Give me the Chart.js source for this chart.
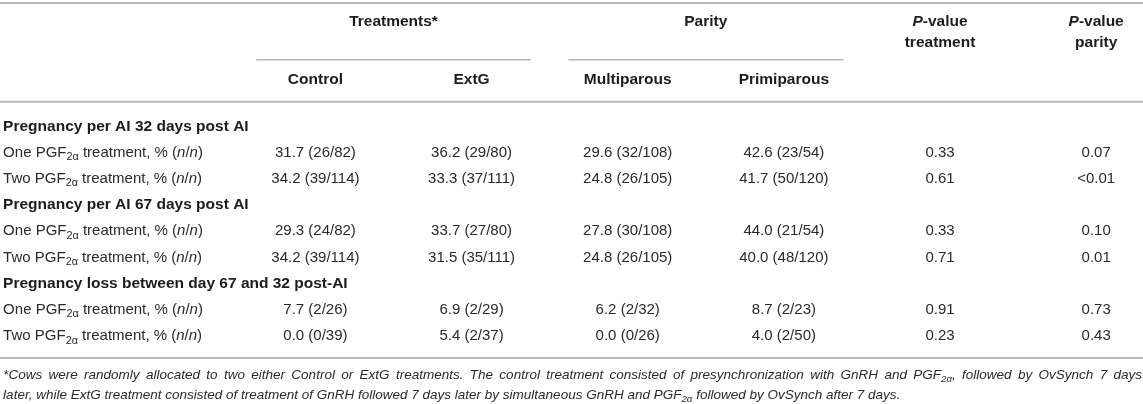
<!DOCTYPE html>
<html><head><meta charset="utf-8">
<script src="https://cdn.jsdelivr.net/npm/chart.js@4/dist/chart.umd.min.js"></script>
<style>html,body{margin:0;padding:0;background:#fff;}canvas{display:block}</style>
</head><body>
<canvas id="c" width="1143" height="404"></canvas>
<script>
// ---------- DATA ----------
const groupHeaders = ['Treatments*', 'Parity'];
const columnHeaders = ['Control', 'ExtG', 'Multiparous', 'Primiparous'];
const pValueHeaders = [['<i>P</i>-value', 'treatment'], ['<i>P</i>-value', 'parity']];
const sectionTitles = [
  'Pregnancy per AI 32 days post AI',
  'Pregnancy per AI 67 days post AI',
  'Pregnancy loss between day 67 and 32 post-AI'
];
const rowLabels = [
  'One PGF<sub>2α</sub> treatment, % (<i>n</i>/<i>n</i>)',
  'Two PGF<sub>2α</sub> treatment, % (<i>n</i>/<i>n</i>)'
];
const controlPct = [31.7, 34.2, 29.3, 34.2, 7.7, 0.0];
const controlCounts = ['26/82', '39/114', '24/82', '39/114', '2/26', '0/39'];
const extgPct = [36.2, 33.3, 33.7, 31.5, 6.9, 5.4];
const extgCounts = ['29/80', '37/111', '27/80', '35/111', '2/29', '2/37'];
const multiparousPct = [29.6, 24.8, 27.8, 24.8, 6.2, 0.0];
const multiparousCounts = ['32/108', '26/105', '30/108', '26/105', '2/32', '0/26'];
const primiparousPct = [42.6, 41.7, 44.0, 40.0, 8.7, 4.0];
const primiparousCounts = ['23/54', '50/120', '21/54', '48/120', '2/23', '2/50'];
const pTreatment = ['0.33', '0.61', '0.33', '0.71', '0.91', '0.23'];
const pParity = ['0.07', '<0.01', '0.10', '0.01', '0.73', '0.43'];
const footnoteLines = [
  '*Cows were randomly allocated to two either Control or ExtG treatments. The control treatment consisted of presynchronization with GnRH and PGF<sub>2α</sub>, followed by OvSynch 7 days',
  'later, while ExtG treatment consisted of treatment of GnRH followed 7 days later by simultaneous GnRH and PGF<sub>2α</sub> followed by OvSynch after 7 days.'
];

// ---------- LAYOUT (scale units) ----------
const X_MIN = -1.02, X_MAX = 6.3;       // column index axis; label column at -1
const Y_MIN = -4.76, Y_MAX = 10.63;     // row index axis (reversed); first body row = 0
const LAYOUT = {
  labelX: -1,
  groupY: -3.92, group2Y: -3.12, subHeadY: -1.71,
  ruleTop: -4.65, ruleSub: -2.48, ruleHead: -0.88, ruleBottom: 8.88,
  subHalf: 0.88,
  foot: [9.52, 10.29],
  bodyShift: 0.05
};
const FONT = '"Liberation Sans", Arial, Helvetica, sans-serif';
const BODY = {size: 15, weight: 'normal', italic: false, color: '#2a2a2a'};
const BOLD = {size: 15.5, weight: 'bold', italic: false, color: '#1c1c1c'};
const FOOT = {size: 13.5, weight: 'normal', italic: true, color: '#2a2a2a'};
const RULE = '#b9b9b9';

// ---------- BUILD DATASETS ----------
function bodyRowY(k) { return Math.floor(k / 2) * 3 + 1 + (k % 2) + LAYOUT.bodyShift; }
const fmt = (p, c) => p.map((v, i) => v.toFixed(1) + ' (' + c[i] + ')');
const bodyColumns = [
  fmt(controlPct, controlCounts),
  fmt(extgPct, extgCounts),
  fmt(multiparousPct, multiparousCounts),
  fmt(primiparousPct, primiparousCounts),
  pTreatment,
  pParity
];

const datasets = [];
function textSet(points, texts, style, align, justify) {
  datasets.push({type: 'scatter', data: points, texts, textStyle: style, align,
    justify: justify || [], pointRadius: 0, pointHoverRadius: 0, showLine: false});
}
function ruleSet(x0, x1, y, w) {
  datasets.push({type: 'line', data: [{x: x0, y}, {x: x1, y}], borderColor: RULE,
    borderWidth: w, pointRadius: 0, fill: false, clip: false, tension: 0});
}

// rules
ruleSet(X_MIN, X_MAX, LAYOUT.ruleTop, 2);
ruleSet(1.5 - LAYOUT.subHalf, 1.5 + LAYOUT.subHalf, LAYOUT.ruleSub, 1.5);
ruleSet(3.5 - LAYOUT.subHalf, 3.5 + LAYOUT.subHalf, LAYOUT.ruleSub, 1.5);
ruleSet(X_MIN, X_MAX, LAYOUT.ruleHead, 2);
ruleSet(X_MIN, X_MAX, LAYOUT.ruleBottom, 2);

// headers
textSet(groupHeaders.map((t, i) => ({x: 1.5 + 2 * i, y: LAYOUT.groupY})), groupHeaders, BOLD, 'center');
textSet(pValueHeaders.map((t, i) => ({x: 5 + i, y: LAYOUT.groupY})), pValueHeaders.map(p => p[0]), BOLD, 'center');
textSet(pValueHeaders.map((t, i) => ({x: 5 + i, y: LAYOUT.group2Y})), pValueHeaders.map(p => p[1]), BOLD, 'center');
textSet(columnHeaders.map((t, i) => ({x: 1 + i, y: LAYOUT.subHeadY})), columnHeaders, BOLD, 'center');

// section titles
textSet(sectionTitles.map((t, i) => ({x: LAYOUT.labelX, y: i * 3 + LAYOUT.bodyShift})), sectionTitles, BOLD, 'left');
// row labels
const labelTexts = [], labelPts = [];
for (let k = 0; k < 6; k++) { labelTexts.push(rowLabels[k % 2]); labelPts.push({x: LAYOUT.labelX, y: bodyRowY(k)}); }
textSet(labelPts, labelTexts, BODY, 'left');
// body values
bodyColumns.forEach((col, ci) => {
  textSet(col.map((v, k) => ({x: ci + 1, y: bodyRowY(k)})), col, BODY, 'center');
});
// footnote (first line justified to the full width)
textSet(footnoteLines.map((t, i) => ({x: LAYOUT.labelX, y: LAYOUT.foot[i]})), footnoteLines, FOOT, 'left', [true, false]);

// ---------- RICH TEXT PLUGIN ----------
function parseRich(markup, base) {
  const segs = [];
  const re = /<(i|sub)>(.*?)<\/\1>/g;
  let last = 0, m;
  while ((m = re.exec(markup)) !== null) {
    if (m.index > last) segs.push(Object.assign({}, base, {text: markup.slice(last, m.index)}));
    if (m[1] === 'i') segs.push(Object.assign({}, base, {text: m[2], italic: true}));
    else segs.push(Object.assign({}, base, {text: m[2], sub: true}));
    last = re.lastIndex;
  }
  if (last < markup.length) segs.push(Object.assign({}, base, {text: markup.slice(last)}));
  return segs;
}
function fontOf(s) {
  const size = s.sub ? s.size * 0.72 : s.size;
  return (s.italic ? 'italic ' : '') + s.weight + ' ' + size + 'px ' + FONT;
}
function drawRich(ctx, markup, x, y, align, base, justifyRight) {
  const segs = parseRich(markup, base);
  let total = 0, spaces = 0;
  segs.forEach(s => {
    ctx.font = fontOf(s); s.w = ctx.measureText(s.text).width; total += s.w;
    spaces += (s.text.match(/ /g) || []).length;
  });
  const extra = (justifyRight != null && spaces > 0) ? Math.max(0, (justifyRight - x - total) / spaces) : 0;
  let cx = align === 'center' ? x - total / 2 : (align === 'right' ? x - total : x);
  segs.forEach(s => {
    ctx.font = fontOf(s);
    ctx.fillStyle = s.color;
    const dy = s.sub ? s.size * 0.3 : 0;
    if (extra === 0) {
      ctx.fillText(s.text, cx, y + dy);
      cx += s.w;
    } else {
      const parts = s.text.split(' ');
      const sp = ctx.measureText(' ').width;
      parts.forEach((p, pi) => {
        if (p) { ctx.fillText(p, cx, y + dy); cx += ctx.measureText(p).width; }
        if (pi < parts.length - 1) cx += sp + extra;
      });
    }
  });
}
const tablePlugin = {
  id: 'tableText',
  afterDatasetsDraw(chart) {
    const ctx = chart.ctx;
    ctx.save();
    ctx.textBaseline = 'middle';
    ctx.textAlign = 'left';
    chart.data.datasets.forEach((ds, i) => {
      if (!ds.texts) return;
      const meta = chart.getDatasetMeta(i);
      meta.data.forEach((el, j) => drawRich(ctx, ds.texts[j], el.x, el.y, ds.align, ds.textStyle,
        ds.justify[j] ? chart.chartArea.right - 1 : null));
    });
    ctx.restore();
  }
};

new Chart(document.getElementById('c'), {
  type: 'scatter',
  data: {datasets},
  options: {
    responsive: false,
    animation: false,
    events: [],
    layout: {padding: 0},
    plugins: {legend: {display: false}, tooltip: {enabled: false}, title: {display: false}},
    scales: {
      x: {type: 'linear', min: X_MIN, max: X_MAX, display: false},
      y: {type: 'linear', min: Y_MIN, max: Y_MAX, reverse: true, display: false}
    }
  },
  plugins: [tablePlugin]
});
</script>
</body></html>
